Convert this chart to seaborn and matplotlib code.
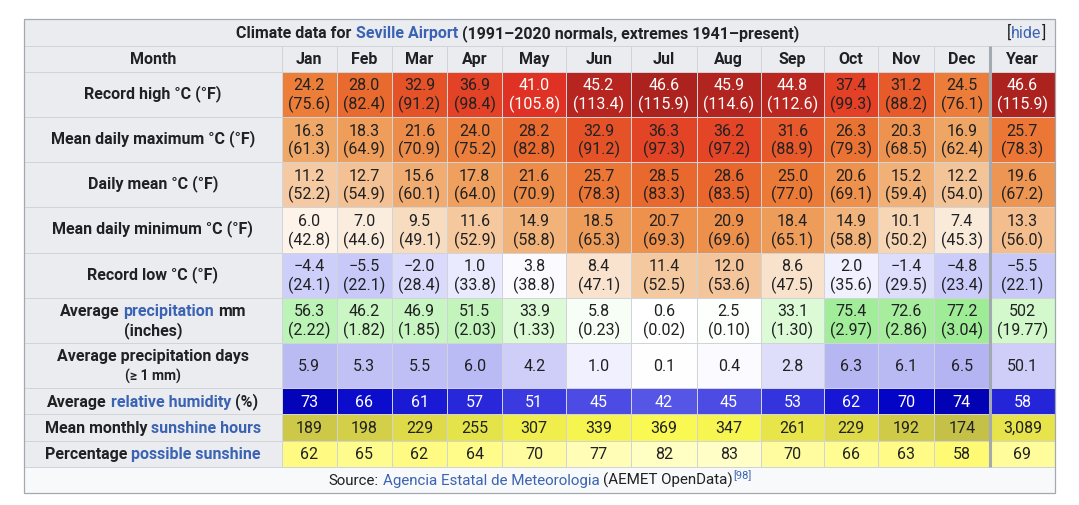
import numpy as np
import matplotlib
matplotlib.use("Agg")
import matplotlib.pyplot as plt
import seaborn as sns
from matplotlib.colors import ListedColormap
from matplotlib.patches import Rectangle
from matplotlib.transforms import Affine2D, offset_copy

# ---------------- data ----------------
months = ["Jan", "Feb", "Mar", "Apr", "May", "Jun", "Jul", "Aug", "Sep", "Oct", "Nov", "Dec", "Year"]
record_high_c = [24.2, 28.0, 32.9, 36.9, 41.0, 45.2, 46.6, 45.9, 44.8, 37.4, 31.2, 24.5, 46.6]
record_high_f = [75.6, 82.4, 91.2, 98.4, 105.8, 113.4, 115.9, 114.6, 112.6, 99.3, 88.2, 76.1, 115.9]
mean_max_c = [16.3, 18.3, 21.6, 24.0, 28.2, 32.9, 36.3, 36.2, 31.6, 26.3, 20.3, 16.9, 25.7]
mean_max_f = [61.3, 64.9, 70.9, 75.2, 82.8, 91.2, 97.3, 97.2, 88.9, 79.3, 68.5, 62.4, 78.3]
daily_mean_c = [11.2, 12.7, 15.6, 17.8, 21.6, 25.7, 28.5, 28.6, 25.0, 20.6, 15.2, 12.2, 19.6]
daily_mean_f = [52.2, 54.9, 60.1, 64.0, 70.9, 78.3, 83.3, 83.5, 77.0, 69.1, 59.4, 54.0, 67.2]
mean_min_c = [6.0, 7.0, 9.5, 11.6, 14.9, 18.5, 20.7, 20.9, 18.4, 14.9, 10.1, 7.4, 13.3]
mean_min_f = [42.8, 44.6, 49.1, 52.9, 58.8, 65.3, 69.3, 69.6, 65.1, 58.8, 50.2, 45.3, 56.0]
record_low_c = [-4.4, -5.5, -2.0, 1.0, 3.8, 8.4, 11.4, 12.0, 8.6, 2.0, -1.4, -4.8, -5.5]
record_low_f = [24.1, 22.1, 28.4, 33.8, 38.8, 47.1, 52.5, 53.6, 47.5, 35.6, 29.5, 23.4, 22.1]
precip_mm = [56.3, 46.2, 46.9, 51.5, 33.9, 5.8, 0.6, 2.5, 33.1, 75.4, 72.6, 77.2, 502]
precip_in = [2.22, 1.82, 1.85, 2.03, 1.33, 0.23, 0.02, 0.10, 1.30, 2.97, 2.86, 3.04, 19.77]
precip_days = [5.9, 5.3, 5.5, 6.0, 4.2, 1.0, 0.1, 0.4, 2.8, 6.3, 6.1, 6.5, 50.1]
humidity = [73, 66, 61, 57, 51, 45, 42, 45, 53, 62, 70, 74, 58]
sunshine_hours = [189, 198, 229, 255, 307, 339, 369, 347, 261, 229, 192, 174, 3089]
pct_sunshine = [62, 65, 62, 64, 70, 77, 82, 83, 70, 66, 63, 58, 69]

title_parts = ["Climate data for", "Seville Airport", "(1991\u20132020 normals, extremes 1941\u2013present)"]
source_parts = ["Source:", "Agencia Estatal de Meteorologia", "(AEMET OpenData)", "[98]"]
row_label_parts = [
    [[("Record high \u00b0C (\u00b0F)", 0)]],
    [[("Mean daily maximum \u00b0C (\u00b0F)", 0)]],
    [[("Daily mean \u00b0C (\u00b0F)", 0)]],
    [[("Mean daily minimum \u00b0C (\u00b0F)", 0)]],
    [[("Record low \u00b0C (\u00b0F)", 0)]],
    [[("Average", 0), ("precipitation", 1), ("mm", 0)], [("(inches)", 0)]],
    [[("Average precipitation days", 0)], [("(\u2265 1 mm)", 0)]],
    [[("Average", 0), ("relative humidity", 1), ("(%)", 0)]],
    [[("Mean monthly", 0), ("sunshine hours", 1)]],
    [[("Percentage", 0), ("possible sunshine", 1)]],
]

# ---------------- style ----------------
W, H, DPI = 1079, 505, 100
TXT = "#202122"
LINK = "#3b63b3"
HEAD_BG = "#eaecf0"
SRC_BG = "#f8f9fa"
BORDER = "#a2a9b1"
GRID = "#d0d3d8"
FS = 11.5
FAM = ["Roboto", "DejaVu Sans"]

col_edges_px = [0, 24, 281.7, 336.7, 391.7, 447.3, 502.3, 566.3, 631, 696.7, 761, 824, 878, 934, 989.8, 1055, 1079]
row_edges_px = [0, 19.3, 45.7, 71.7, 116.9, 162.1, 207.4, 252.6, 297.8, 343.0, 388.3, 414.3, 440.7, 466.7, 493.3, 505]
col_logical = np.arange(-1, 16, dtype=float)
row_logical = np.arange(-2, 14, dtype=float)

temp_anchors = [(-6.0, (198, 198, 248)), (-4.4, (206, 206, 250)), (-2.0, (218, 218, 252)),
                (1.0, (234, 234, 254)), (4.5, (255, 255, 255)), (6.0, (253, 243, 233)),
                (7.4, (250, 234, 218)), (9.5, (248, 220, 192)), (11.2, (245, 202, 162)),
                (12.7, (244, 193, 148)), (15.0, (241, 178, 120)), (16.3, (240, 168, 104)),
                (18.3, (238, 157, 90)), (21.6, (236, 140, 72)), (24.2, (236, 126, 58)),
                (28.0, (233, 106, 46)), (32.9, (230, 82, 40)), (36.9, (228, 66, 38)),
                (41.0, (224, 50, 36)), (44.8, (186, 38, 32)), (46.6, (172, 34, 30))]
precip_anchors = [(0, (255, 255, 255)), (3, (252, 255, 252)), (6, (246, 254, 245)),
                  (33, (220, 250, 214)), (41.8, (210, 248, 204)), (46.5, (200, 246, 194)),
                  (51.5, (194, 244, 188)), (56.3, (188, 243, 182)), (73, (165, 238, 156)),
                  (77.2, (158, 236, 150))]
days_anchors = [(0, (255, 255, 255)), (0.4, (250, 250, 255)), (1.0, (240, 240, 254)),
                (2.8, (222, 222, 250)), (4.2, (206, 206, 248)), (5.3, (193, 193, 246)),
                (6.0, (186, 186, 244)), (6.5, (180, 180, 242))]
hum_anchors = [(40, (92, 92, 232)), (45, (76, 76, 228)), (51, (58, 58, 224)), (57, (40, 40, 218)),
               (62, (22, 22, 212)), (66, (12, 12, 205)), (70, (4, 4, 198)), (74, (2, 2, 180))]
sun_anchors = [(170, (194, 190, 72)), (190, (206, 201, 72)), (200, (212, 208, 72)),
               (229, (222, 218, 72)), (258, (230, 228, 74)), (307, (240, 238, 76)),
               (340, (246, 244, 78)), (370, (250, 248, 82))]
pct_anchors = [(58, (255, 250, 115)), (62, (255, 251, 130)), (65, (255, 252, 142)),
               (70, (255, 252, 160)), (77, (255, 253, 182)), (83, (255, 254, 198))]


def interp_color(v, anchors):
    xs = [a[0] for a in anchors]
    return tuple(float(np.interp(v, xs, [a[1][k] for a in anchors])) / 255 for k in range(3))


def make_scale(lo, px):
    lo = np.asarray(lo, float)
    px = np.asarray(px, float)

    def build(a, b):
        def f(v):
            v = np.asarray(v, float)
            out = np.interp(v, a, b)
            s0 = (b[1] - b[0]) / (a[1] - a[0])
            s1 = (b[-1] - b[-2]) / (a[-1] - a[-2])
            out = np.where(v < a[0], b[0] + (v - a[0]) * s0, out)
            out = np.where(v > a[-1], b[-1] + (v - a[-1]) * s1, out)
            return out
        return f
    return build(lo, px), build(px, lo)


fx, ix = make_scale(col_logical, col_edges_px)
fy, iy = make_scale(row_logical, row_edges_px)


def fmt(v, nd):
    return f"{v:.{nd}f}".replace("-", "\u2212")


temp_rows = [(record_high_c, record_high_f), (mean_max_c, mean_max_f), (daily_mean_c, daily_mean_f),
             (mean_min_c, mean_min_f), (record_low_c, record_low_f)]
rows = []
for c_vals, f_vals in temp_rows:
    rows.append((c_vals, [fmt(v, 1) for v in c_vals], ["(" + fmt(v, 1) + ")" for v in f_vals], temp_anchors))
rows.append(([v if i < 12 else v / 12 for i, v in enumerate(precip_mm)],
             [fmt(v, 1) if v < 100 else fmt(v, 0) for v in precip_mm],
             ["(" + fmt(v, 2) + ")" for v in precip_in], precip_anchors))
rows.append(([v if i < 12 else v / 12 for i, v in enumerate(precip_days)],
             [fmt(v, 1) for v in precip_days], None, days_anchors))
rows.append((humidity, [str(v) for v in humidity], None, hum_anchors))
rows.append(([v if i < 12 else v / 12 for i, v in enumerate(sunshine_hours)],
             [f"{v:,}" for v in sunshine_hours], None, sun_anchors))
rows.append((pct_sunshine, [str(v) for v in pct_sunshine], None, pct_anchors))

n_rows, n_cols = 1 + len(rows), 1 + len(months)
palette = []
idx = np.zeros((n_rows, n_cols), dtype=int)
cell_rgb = {}
for r in range(n_rows):
    for c in range(n_cols):
        if r == 0 or c == 0:
            col = matplotlib.colors.to_rgb(HEAD_BG)
        else:
            vals, _, _, anch = rows[r - 1]
            col = interp_color(vals[c - 1], anch)
        cell_rgb[(r, c)] = col
        idx[r, c] = len(palette)
        palette.append(col)

# ---------------- figure ----------------
sns.set_theme(style="white")
plt.rcParams["font.family"] = FAM
fig = plt.figure(figsize=(W / DPI, H / DPI), dpi=DPI)
ax = fig.add_axes([0, 0, 1, 1])
sns.heatmap(idx, cmap=ListedColormap(palette), vmin=-0.5, vmax=len(palette) - 0.5, cbar=False,
            linewidths=0.5, linecolor=GRID, xticklabels=False, yticklabels=False, ax=ax)
ax.set_xscale("function", functions=(fx, ix))
ax.set_yscale("function", functions=(fy, iy))
ax.set_xlim(-1, 15)
ax.set_ylim(13, -2)
ax.axis("off")

ax.add_patch(Rectangle((0, -1), n_cols, 1, facecolor=HEAD_BG, edgecolor=GRID, lw=0.6, zorder=0.5))
ax.add_patch(Rectangle((0, n_rows), n_cols, 1, facecolor=SRC_BG, edgecolor=GRID, lw=0.6, zorder=0.5))
ax.add_patch(Rectangle((0, -1), n_cols, n_rows + 2, fill=False, edgecolor=BORDER, lw=0.9, zorder=3))
ax.plot([n_cols - 1, n_cols - 1], [0, n_rows], color=BORDER, lw=2.2, solid_capstyle="butt", zorder=3)

pix = Affine2D().scale(1, -1).translate(0, H)
renderer = fig.canvas.get_renderer()


def text_w(s, size, weight):
    t = ax.text(0, 0, s, transform=pix, fontsize=size, fontweight=weight)
    w = t.get_window_extent(renderer).width
    t.remove()
    return w


def rich(cx, base, pieces, weight="bold", ha="center"):
    """pieces: list of (text, color, gap_px, size, dy)"""
    items = []
    for s, colr, gap, sz, dy in pieces:
        t = ax.text(0, 0, s, transform=pix, fontsize=sz, fontweight=weight, color=colr,
                    ha="left", va="baseline", zorder=5)
        items.append((t, t.get_window_extent(renderer).width, gap, dy))
    total = sum(w + g for _, w, g, _ in items) - items[-1][2]
    x = cx - total / 2 if ha == "center" else cx - total
    for t, w, g, dy in items:
        t.set_position((x, base + dy))
        x += w + g


def space(size, weight):
    return text_w("a a", size, weight) - text_w("aa", size, weight)


sp_b = space(FS, "bold")

# title
title_base = float(fy(-0.5)) + 5.3
rich(517.5, title_base, [(title_parts[0], TXT, sp_b, FS, 0), (title_parts[1], LINK, sp_b, FS, 0),
                         (title_parts[2], TXT, 0, FS, 0)])
rich(1046, title_base, [("[", TXT, 0, FS, 0), ("hide", LINK, 0, FS, 0), ("]", TXT, 0, FS, 0)],
     weight="normal", ha="right")

# header row
hdr_base = float(fy(0.5)) + 5.0
rich(float(fx(0.5)), hdr_base, [("Month", TXT, 0, FS, 0)])
for j, m in enumerate(months):
    rich(float(fx(j + 1.5)), hdr_base, [(m, TXT, 0, FS, 0)])

# row labels
for i, lines in enumerate(row_label_parts):
    cy = float(fy(i + 1.5))
    cx = float(fx(0.5))
    tall = i < 7
    if len(lines) == 1:
        bases = [cy + (3.6 if tall else 5.2)]
    else:
        bases = [cy - 4.3, cy + 15.2]
    for li, (line, b) in enumerate(zip(lines, bases)):
        sz = FS if not (i == 6 and li == 1) else 10.0
        pieces = []
        for k, (s, is_link) in enumerate(line):
            gap = space(sz, "bold") if k < len(line) - 1 else 0
            pieces.append((s, LINK if is_link else TXT, gap, sz, 0))
        rich(cx, b, pieces)

# data cells
for r, (vals, l1, l2, anch) in enumerate(rows, start=1):
    for c in range(len(months)):
        rgb = cell_rgb[(r, c + 1)]
        lum = 0.299 * rgb[0] + 0.587 * rgb[1] + 0.114 * rgb[2]
        tc = "white" if lum < 0.41 else TXT
        if l2 is None:
            offs = [(l1[c], -5.6)]
        else:
            offs = [(l1[c], 4.0), (l2[c], -14.7)]
        for s, dy in offs:
            tr = offset_copy(ax.transData, fig=fig, x=0, y=dy, units="dots")
            ax.text(c + 1.5, r + 0.5, s, transform=tr, ha="center", va="baseline",
                    fontsize=FS, color=tc, zorder=5)

# source
src_base = float(fy(n_rows + 0.5)) + 4.6
SFS = 10.9
sp_s = space(SFS, "normal")
rich(540, src_base, [(source_parts[0], TXT, sp_s, SFS, 0), (source_parts[1], LINK, sp_s, SFS, 0),
                     (source_parts[2], TXT, 0, SFS, 0), (source_parts[3], LINK, 0, 8.0, -6)],
     weight="normal")

fig.savefig("out.png", dpi=DPI, facecolor="white")
